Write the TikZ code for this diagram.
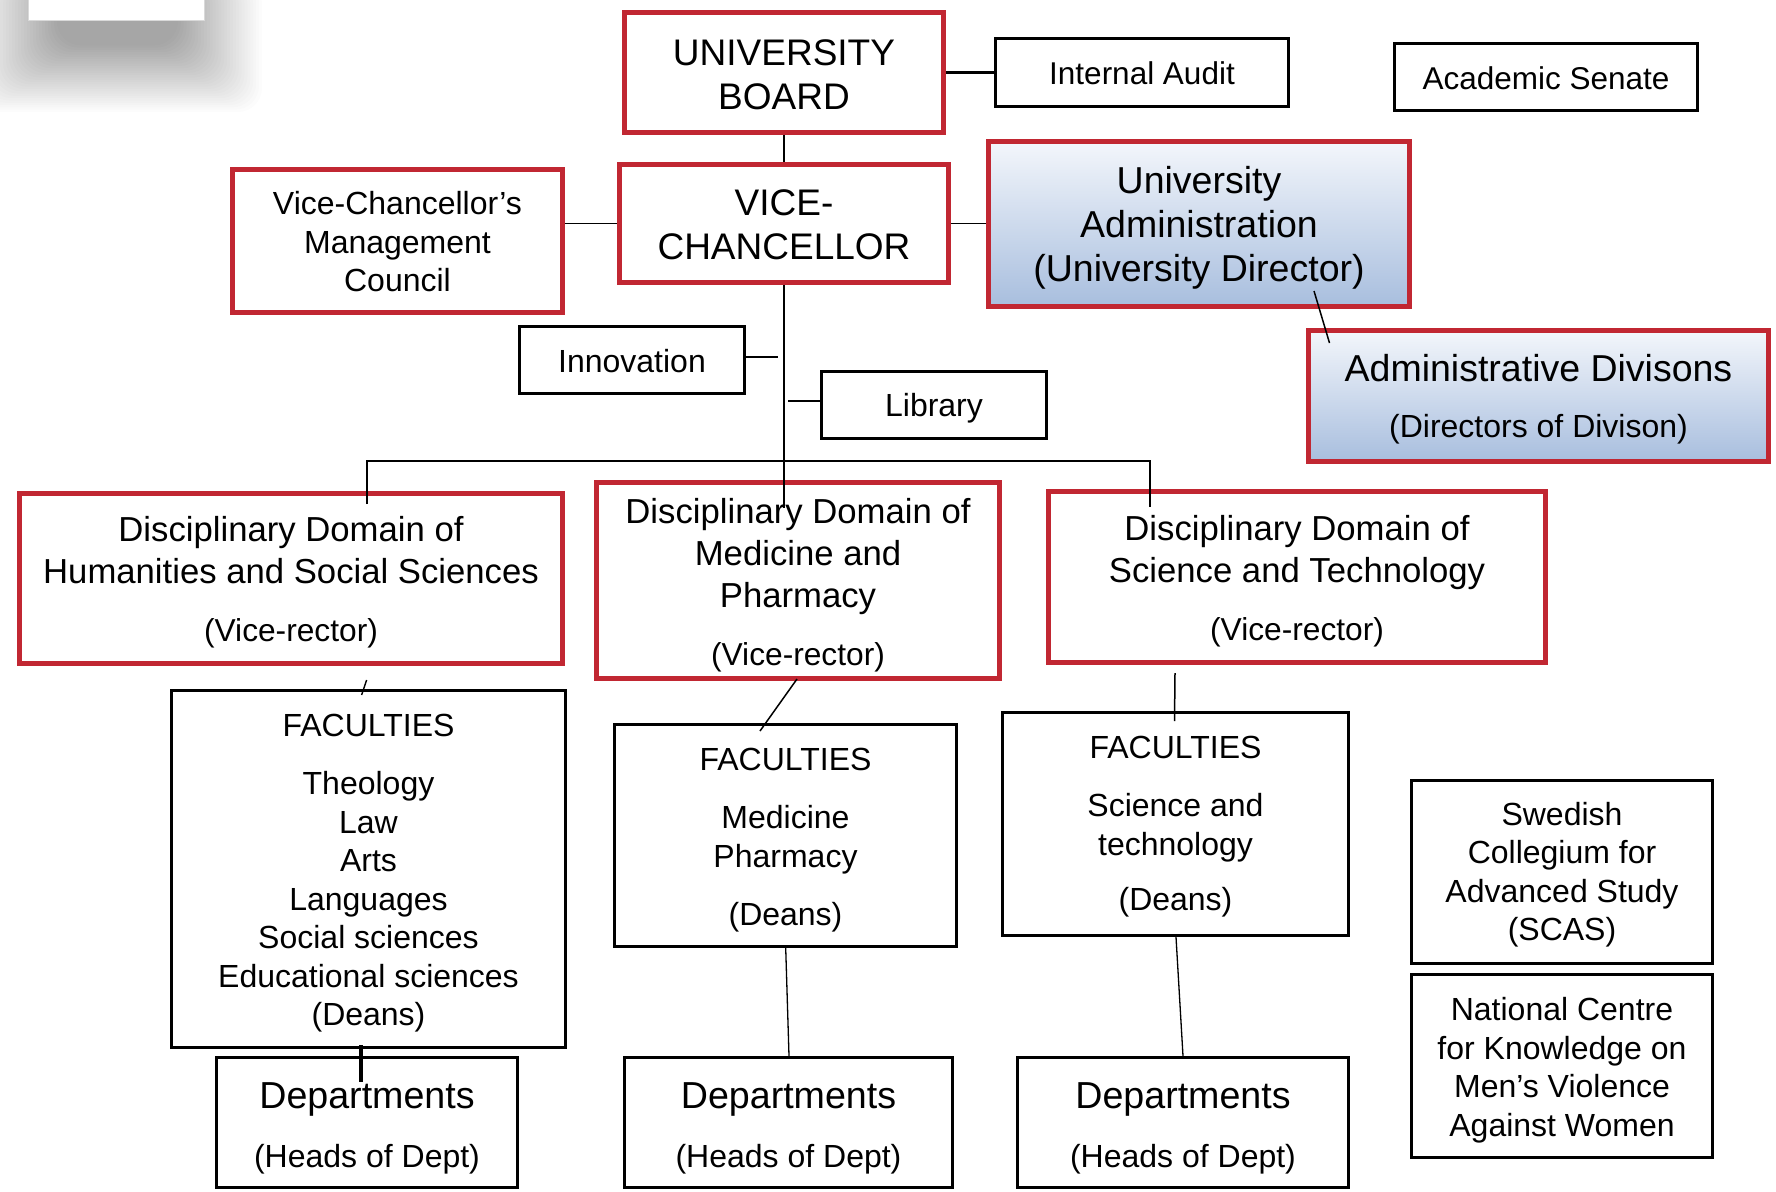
\documentclass[tikz,border=0pt]{standalone}
\usepackage{fontspec}
\setmainfont{Liberation Sans}
\usetikzlibrary{calc}
\definecolor{bred}{RGB}{193,39,50}
\definecolor{btop}{RGB}{243,246,251}
\definecolor{bbot}{RGB}{168,190,222}
\newcommand\fsBody{\fontsize{32}{38.5}\selectfont}
\newcommand\fsBig{\fontsize{37}{44.5}\selectfont}
\newcommand\fsDom{\fontsize{34.7}{41.8}\selectfont}
\newcommand\fsSub{\fontsize{31.7}{38}\selectfont}
\newcommand\fsAdm{\fontsize{37.5}{44}\selectfont}
\newcommand\fsDiv{\fontsize{32}{38}\selectfont}
\newcommand\fsTop{\fontsize{31.5}{38}\selectfont}
\newcommand\fsDep{\fontsize{37.6}{44}\selectfont}
\begin{document}
\begin{tikzpicture}[x=1pt,y=-1pt,
  redbox/.style={draw=bred, line width=5pt, fill=white, inner sep=0pt},
  blackbox/.style={draw=black, line width=2.8pt, fill=white, inner sep=0pt},
  bluebox/.style={redbox, top color=btop, bottom color=bbot},
  txt/.style={align=center, inner sep=0pt},
  conn/.style={line width=1.8pt, black},
]
\useasboundingbox (0,0) rectangle (1776,1191);
\fill[white] (0,0) rectangle (1776,1191);

% soft shadow of the top-left box
\foreach \r in {0,2,...,58}{
  \fill[black,opacity=0.011,rounded corners=24pt]
    ({-30+1.5*\r},-20) rectangle ({262-1.45*\r},{112-1.15*\r});
}
\node[draw=black!15, line width=0.8pt, fill=white, minimum width=176pt, minimum height=40pt, inner sep=0pt] (topbox) at (116,0) {};

% top level
\node[redbox, minimum width=319pt, minimum height=120pt,
  label={[name=UBt, txt, font=\fsBig, yshift=-2.3pt]center:{UNIVERSITY\\BOARD}}] (UB) at (784,72.5) {};
\node[blackbox, minimum width=293pt, minimum height=68pt,
  label={[name=IAt, txt, font=\fsTop, yshift=-1pt]center:{Internal Audit}}] (IA) at (1142,72.5) {};
\node[blackbox, minimum width=303pt, minimum height=67pt,
  label={[name=ASt, txt, font=\fsTop, yshift=-1pt]center:{Academic Senate}}] (AS) at (1546,77) {};

\node[redbox, minimum width=330pt, minimum height=143pt,
  label={[name=VCMCt, txt, font=\fsBody, yshift=-1pt]center:{Vice-Chancellor’s\\Management\\Council}}] (VCMC) at (397.5,241) {};
\node[redbox, minimum width=329pt, minimum height=118pt,
  label={[name=VCt, txt, font=\fontsize{37}{44}\selectfont, yshift=-1pt]center:{VICE-\\CHANCELLOR}}] (VC) at (784,223.5) {};
\node[bluebox, minimum width=421pt, minimum height=165pt,
  label={[name=UAt, txt, font=\fsAdm, yshift=-4pt]center:{University\\Administration\\(University Director)}}] (UA) at (1199,224) {};
\node[bluebox, minimum width=460pt, minimum height=131pt,
  label={[name=ADt, txt, font=\fsAdm, yshift=-3.5pt]center:{Administrative Divisons\\[12pt]{\fsDiv (Directors of Divison)}}}] (AD) at (1538.5,396) {};

\node[blackbox, minimum width=225pt, minimum height=67pt,
  label={[name=Innot, txt, font=\fsBody, yshift=-1pt]center:{Innovation}}] (Inno) at (632,360) {};
\node[blackbox, minimum width=225pt, minimum height=67pt,
  label={[name=Libt, txt, font=\fsBody, yshift=-3pt]center:{Library}}] (Lib) at (934,405) {};

% domains
\node[redbox, minimum width=543pt, minimum height=170pt,
  label={[name=Humt, txt, font=\fsDom, yshift=-3.6pt]center:{Disciplinary Domain of\\Humanities and Social Sciences\\[16.5pt]{\fsSub (Vice-rector)}}}] (Hum) at (291,578.5) {};
\node[redbox, minimum width=403pt, minimum height=196pt,
  label={[name=Medt, txt, font=\fsDom, yshift=-4.5pt]center:{Disciplinary Domain of\\Medicine and\\Pharmacy\\[16pt]{\fsSub (Vice-rector)}}}] (Med) at (798,580.5) {};
\node[redbox, minimum width=497pt, minimum height=171pt,
  label={[name=Scit, txt, font=\fsDom, yshift=-4pt]center:{Disciplinary Domain of\\Science and Technology\\[16.5pt]{\fsSub (Vice-rector)}}}] (Sci) at (1297,577) {};

% faculties
\node[blackbox, minimum width=394pt, minimum height=357pt,
  label={[name=Fac1t, txt, font=\fsBody, yshift=-4.5pt]center:{FACULTIES\\[19.5pt]Theology\\Law\\Arts\\Languages\\Social sciences\\Educational sciences\\(Deans)}}] (Fac1) at (368.5,869) {};
\node[blackbox, minimum width=342pt, minimum height=222pt,
  label={[name=Fac2t, txt, font=\fsBody, yshift=-4.5pt]center:{FACULTIES\\[19.5pt]Medicine\\Pharmacy\\[19.5pt](Deans)}}] (Fac2) at (785.5,835.5) {};
\node[blackbox, minimum width=346pt, minimum height=223pt,
  label={[name=Fac3t, txt, font=\fsBody, yshift=-2.6pt]center:{FACULTIES\\[20pt]Science and\\technology\\[17pt](Deans)}}] (Fac3) at (1175.5,824) {};

% departments
\node[blackbox, minimum width=301pt, minimum height=130pt,
  label={[name=Dep1t, txt, font=\fsDep, yshift=-5.6pt]center:{Departments\\[14.7pt]{\fsBody (Heads of Dept)}}}] (Dep1) at (367,1122.5) {};
\node[blackbox, minimum width=328pt, minimum height=130pt,
  label={[name=Dep2t, txt, font=\fsDep, yshift=-5.6pt]center:{Departments\\[14.7pt]{\fsBody (Heads of Dept)}}}] (Dep2) at (788.5,1122.5) {};
\node[blackbox, minimum width=331pt, minimum height=130pt,
  label={[name=Dep3t, txt, font=\fsDep, yshift=-5.6pt]center:{Departments\\[14.7pt]{\fsBody (Heads of Dept)}}}] (Dep3) at (1183,1122.5) {};

% independent units
\node[blackbox, minimum width=301pt, minimum height=183pt,
  label={[name=SCASt, txt, font=\fsBody, yshift=-2.8pt]center:{Swedish\\Collegium for\\Advanced Study\\(SCAS)}}] (SCAS) at (1562,872) {};
\node[blackbox, minimum width=301pt, minimum height=183pt,
  label={[name=NCt, txt, font=\fsBody, yshift=-4pt]center:{National Centre\\for Knowledge on\\Men’s Violence\\Against Women}}] (NC) at (1562,1066) {};

% connector end points
\coordinate (uaA) at (1314,291);
\coordinate (adA) at (1329.5,343);
\coordinate (medIn) at (784,508);
\coordinate (innoEnd) at (778,357);
\coordinate (libEnd) at (788,401);
\coordinate (busL) at (366.6,461);
\coordinate (busR) at (1149.6,461);
\coordinate (humIn) at (366.6,504);
\coordinate (sciIn) at (1149.6,506.7);
\coordinate (humOut) at (366.6,680);
\coordinate (fac1In) at (361.6,695);
\coordinate (medOut) at (797,679);
\coordinate (fac2In) at (760,731);
\coordinate (sciOut) at (1175,673);
\coordinate (fac3In) at (1174.5,721);
\coordinate (fac1Out) at (361,1045);
\coordinate (dep1In) at (361,1082);
\coordinate (fac2Out) at (785.7,948);
\coordinate (dep2In) at (789,1056);
\coordinate (fac3Out) at (1176,937);
\coordinate (dep3In) at (1183,1056);

% connectors
\draw[conn, line width=2.4pt] (UB.south) -- (VC.north);
\draw[conn, line width=2.4pt] (UB.east) -- (IA.west);
\draw[conn] (VC.west) -- (VC.west -| VCMC.east);
\draw[conn] (VC.east) -- (VC.east -| UA.west);
\draw[conn, line width=1.5pt] (uaA) -- (adA);
\draw[conn] (VC.south) -- (medIn);
\draw[conn, line width=1.4pt] (innoEnd -| Inno.east) -- (innoEnd);
\draw[conn] (libEnd) -- (libEnd -| Lib.west);
\draw[conn] (humIn) -- (busL) -- (busR) -- (sciIn);
\draw[conn, line width=1.4pt] (humOut) -- (fac1In);
\draw[conn, line width=1.5pt] (medOut) -- (fac2In);
\draw[conn, line width=1.5pt] (sciOut) -- (fac3In);
\draw[conn, line width=4pt] (fac1Out) -- (dep1In);
\draw[conn, line width=1.3pt] (fac2Out) -- (dep2In);
\draw[conn, line width=1.3pt] (fac3Out) -- (dep3In);
\end{tikzpicture}
\end{document}
